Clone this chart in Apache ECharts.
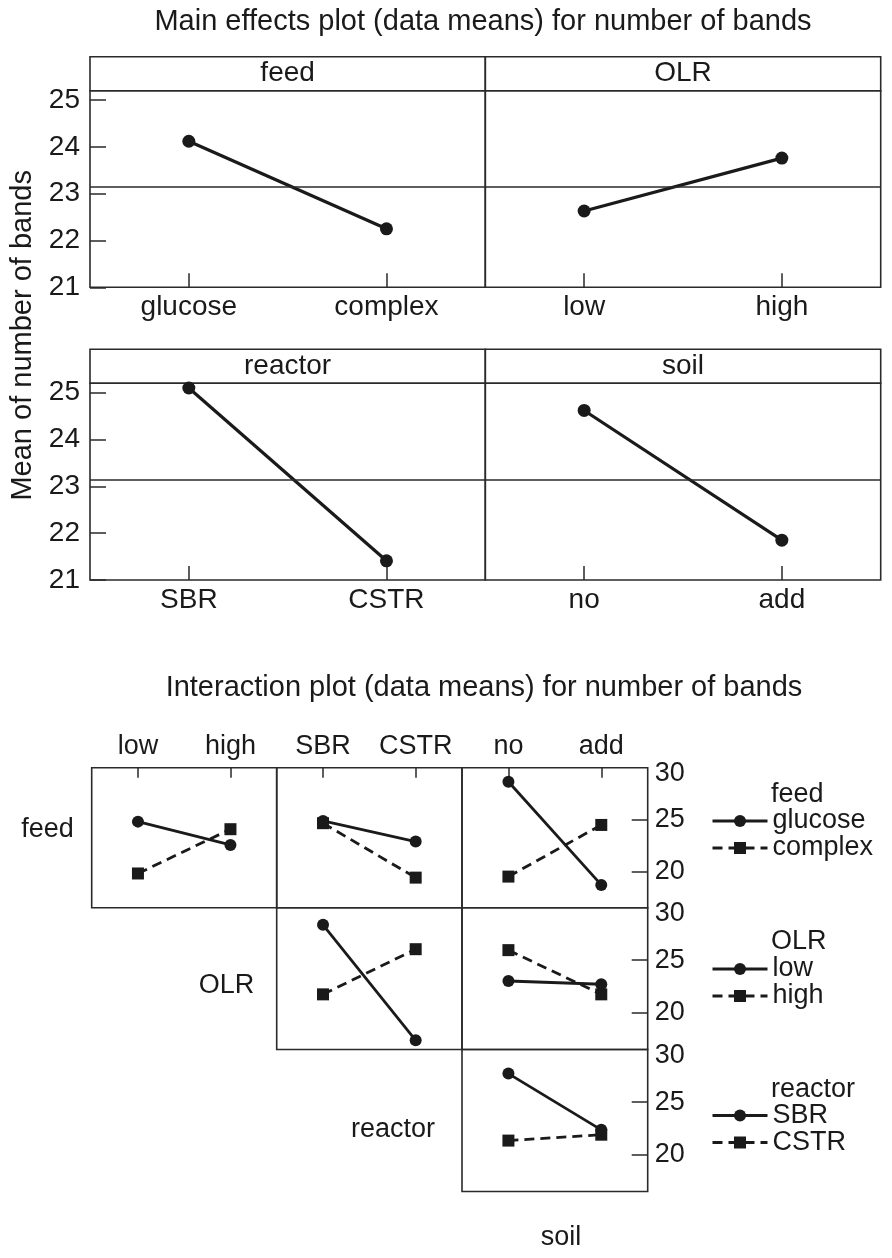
<!DOCTYPE html>
<html>
<head>
<meta charset="utf-8">
<script src="https://cdn.jsdelivr.net/npm/echarts@6/dist/echarts.min.js"></script>
<style>
html,body{margin:0;padding:0;background:#fff;}
#chart{width:892px;height:1258px;}
</style>
</head>
<body>
<div id="chart"></div>
<script>
// ---------- data ----------
const feedLevels = ['glucose', 'complex'];
const olrLevels = ['low', 'high'];
const reactorLevels = ['SBR', 'CSTR'];
const soilLevels = ['no', 'add'];

const mainFeed = [24.12, 22.25];
const mainOLR = [22.63, 23.76];
const mainReactor = [25.10, 21.41];
const mainSoil = [24.62, 21.85];
const grandMean = 23.14;
const mainTicks = [21, 22, 23, 24, 25];

// interaction means: [row factor level][column factor levels]
const feedByOLR_glucose = [24.80, 22.55];
const feedByOLR_complex = [19.80, 24.07];
const feedByReactor_glucose = [24.87, 22.88];
const feedByReactor_complex = [24.65, 19.40];
const feedBySoil_glucose = [28.65, 18.70];
const feedBySoil_complex = [19.50, 24.48];
const olrByReactor_low = [28.37, 17.38];
const olrByReactor_high = [21.75, 26.05];
const olrBySoil_low = [23.02, 22.71];
const olrBySoil_high = [25.96, 21.75];
const reactorBySoil_SBR = [27.71, 22.36];
const reactorBySoil_CSTR = [21.34, 21.90];
const interTickLabels = [20, 25, 30];
const interTicks = [20, 25];

// ---------- style ----------
const FONT = 'Liberation Sans, Arial, sans-serif';
const INK = '#1a1a1a';
const BORDER = '#2a2a2a';

function txt(text, x, y, size, align) {
  return {
    text: text, left: x, top: y, padding: 0,
    textAlign: align || 'center', textVerticalAlign: 'middle',
    textStyle: {fontFamily: FONT, fontSize: size, fontWeight: 'normal', color: INK}
  };
}

const grids = [];
const xAxes = [];
const yAxes = [];
const series = [];

function addGrid(g) { grids.push(Object.assign({show: true, borderColor: BORDER, borderWidth: 1.6, backgroundColor: 'transparent', containLabel: false}, g)); return grids.length - 1; }

// main effects panels
function mainPanel(rect, cats, values, showY) {
  const gi = addGrid(rect);
  xAxes.push({
    type: 'category', gridIndex: gi, data: cats, boundaryGap: true, position: 'bottom',
    axisLine: {show: false},
    axisTick: {show: true, inside: true, alignWithLabel: true, interval: 0, length: 14, lineStyle: {color: BORDER, width: 1.5}},
    axisLabel: {show: true, interval: 0, margin: 6, fontFamily: FONT, fontSize: 28, color: INK}
  });
  yAxes.push({
    type: 'value', gridIndex: gi, min: 21, max: 25.2, position: 'left',
    splitLine: {show: false}, axisLine: {show: false},
    axisTick: {show: showY, inside: true, length: 16, customValues: mainTicks, lineStyle: {color: BORDER, width: 1.5}},
    axisLabel: {show: showY, margin: 10, customValues: mainTicks, fontFamily: FONT, fontSize: 28, color: INK}
  });
  series.push({
    type: 'line', xAxisIndex: gi, yAxisIndex: gi, data: values,
    symbol: 'circle', symbolSize: 13, lineStyle: {color: INK, width: 3.2}, itemStyle: {color: INK},
    markLine: {silent: true, symbol: 'none', label: {show: false}, lineStyle: {color: BORDER, width: 1.5, type: 'solid'}, data: [{yAxis: grandMean}]}
  });
}

mainPanel({left: 90, top: 90.7, width: 395.3, height: 196.6}, feedLevels, mainFeed, true);
mainPanel({left: 485.3, top: 90.7, width: 395.4, height: 196.6}, olrLevels, mainOLR, false);
mainPanel({left: 90, top: 383.3, width: 395.3, height: 196.7}, reactorLevels, mainReactor, true);
mainPanel({left: 485.3, top: 383.3, width: 395.4, height: 196.7}, soilLevels, mainSoil, false);

// strips
function strip(rect) {
  const gi = addGrid(rect);
  xAxes.push({type: 'value', gridIndex: gi, show: false});
  yAxes.push({type: 'value', gridIndex: gi, show: false});
}
strip({left: 90, top: 56.7, width: 395.3, height: 34});
strip({left: 485.3, top: 56.7, width: 395.4, height: 34});
strip({left: 90, top: 349.3, width: 395.3, height: 34});
strip({left: 485.3, top: 349.3, width: 395.4, height: 34});

// shared y-axis name grid
(function () {
  const gi = addGrid({left: 90, top: 90.7, width: 790.7, height: 489.3, show: false});
  xAxes.push({type: 'value', gridIndex: gi, show: false});
  yAxes.push({
    type: 'value', gridIndex: gi, show: true, position: 'left',
    name: 'Mean of number of bands', nameLocation: 'middle', nameGap: 56,
    nameTextStyle: {fontFamily: FONT, fontSize: 29, color: INK},
    axisLine: {show: false}, axisTick: {show: false}, axisLabel: {show: false}, splitLine: {show: false}
  });
})();

// interaction cells
function interCell(rect, cats, topRow, rightCol, sA, sB) {
  const gi = addGrid(Object.assign({borderWidth: 1.6}, rect));
  xAxes.push({
    type: 'category', gridIndex: gi, data: cats, boundaryGap: true, position: 'top',
    axisLine: {show: false},
    axisTick: {show: topRow, inside: true, alignWithLabel: true, interval: 0, length: 10, lineStyle: {color: BORDER, width: 1.5}},
    axisLabel: {show: topRow, interval: 0, hideOverlap: false, margin: 8, fontFamily: FONT, fontSize: 27, color: INK}
  });
  yAxes.push({
    type: 'value', gridIndex: gi, min: 16.5, max: 30, position: 'right',
    splitLine: {show: false}, axisLine: {show: false},
    axisTick: {show: rightCol, inside: true, length: 16, customValues: interTicks, lineStyle: {color: BORDER, width: 1.5}},
    axisLabel: {
      show: rightCol, margin: 7, customValues: interTickLabels, fontFamily: FONT, fontSize: 27, color: INK,
      formatter: function (v) { return v === 30 ? '{t|' + v + '}' : String(v); },
      rich: {t: {fontFamily: FONT, fontSize: 27, color: INK, padding: [12, 0, 0, 0]}}
    }
  });
  series.push({
    name: sA.name, type: 'line', xAxisIndex: gi, yAxisIndex: gi, data: sA.data, z: 3,
    symbol: 'circle', symbolSize: 12, lineStyle: {color: INK, width: 2.8, type: 'solid'}, itemStyle: {color: INK}
  });
  series.push({
    name: sB.name, type: 'line', xAxisIndex: gi, yAxisIndex: gi, data: sB.data, z: 2,
    symbol: 'rect', symbolSize: 12, lineStyle: {color: INK, width: 2.8, type: [10, 6]}, itemStyle: {color: INK}
  });
}

const c1 = {left: 91.7, width: 185};
const c2 = {left: 276.7, width: 185.3};
const c3 = {left: 462, width: 185.7};
const r1 = {top: 767.7, height: 140};
const r2 = {top: 907.7, height: 141.8};
const r3 = {top: 1049.5, height: 142};

interCell(Object.assign({}, c1, r1), olrLevels, true, false,
  {name: 'glucose', data: feedByOLR_glucose}, {name: 'complex', data: feedByOLR_complex});
interCell(Object.assign({}, c2, r1), reactorLevels, true, false,
  {name: 'glucose', data: feedByReactor_glucose}, {name: 'complex', data: feedByReactor_complex});
interCell(Object.assign({}, c3, r1), soilLevels, true, true,
  {name: 'glucose', data: feedBySoil_glucose}, {name: 'complex', data: feedBySoil_complex});
interCell(Object.assign({}, c2, r2), reactorLevels, false, false,
  {name: 'low', data: olrByReactor_low}, {name: 'high', data: olrByReactor_high});
interCell(Object.assign({}, c3, r2), soilLevels, false, true,
  {name: 'low', data: olrBySoil_low}, {name: 'high', data: olrBySoil_high});
interCell(Object.assign({}, c3, r3), soilLevels, false, true,
  {name: 'SBR', data: reactorBySoil_SBR}, {name: 'CSTR', data: reactorBySoil_CSTR});

function legend(names, top) {
  return {
    data: names, orient: 'vertical', left: 711, top: top, padding: 0,
    itemWidth: 55, itemHeight: 15, itemGap: 0, selectedMode: false,
    lineStyle: {width: 3},
    textStyle: {fontFamily: FONT, fontSize: 27, lineHeight: 26, color: INK}
  };
}

const option = {
  backgroundColor: '#ffffff',
  animation: false,
  title: [
    txt('Main effects plot (data means) for number of bands', 483, 22, 29),
    txt('feed', 287.6, 73.7, 28),
    txt('OLR', 683, 73.7, 28),
    txt('reactor', 287.6, 366.5, 28),
    txt('soil', 683, 366.5, 28),
    txt('Interaction plot (data means) for number of bands', 484, 688, 29),
    txt('feed', 47.5, 830, 27),
    txt('OLR', 226.5, 986, 27),
    txt('reactor', 393, 1130, 27),
    txt('soil', 561, 1238, 27),
    txt('feed', 771, 795, 27, 'left'),
    txt('OLR', 771, 942, 27, 'left'),
    txt('reactor', 771, 1090, 27, 'left')
  ],
  legend: [
    legend(['glucose', 'complex'], 807.5),
    legend(['low', 'high'], 955.5),
    legend(['SBR', 'CSTR'], 1102)
  ],
  grid: grids,
  xAxis: xAxes,
  yAxis: yAxes,
  series: series
};

const chart = echarts.init(document.getElementById('chart'), null, {renderer: 'canvas'});
chart.setOption(option);
</script>
</body>
</html>
